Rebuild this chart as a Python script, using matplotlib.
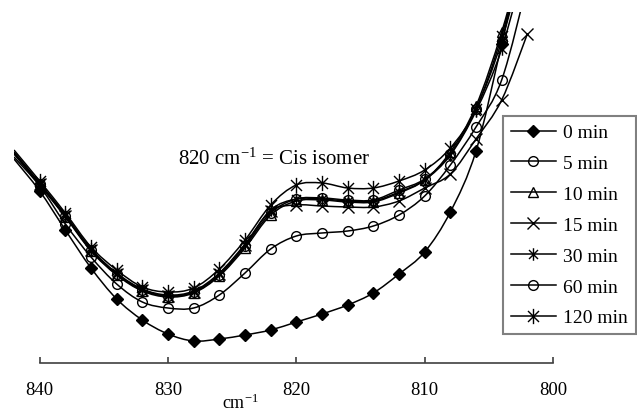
import matplotlib
matplotlib.use("Agg")
import matplotlib.pyplot as plt
from matplotlib.path import Path
from matplotlib.patches import PathPatch
from matplotlib.lines import Line2D

plt.rcParams['font.family'] = ['Liberation Serif', 'DejaVu Serif']
plt.rcParams['mathtext.fontset'] = 'custom'
plt.rcParams['mathtext.rm'] = 'Liberation Serif'
plt.rcParams['mathtext.it'] = 'Liberation Serif:italic'

# numero de onda (cm-1), cada 2 cm-1
onda = [842, 840, 838, 836, 834, 832, 830, 828, 826, 824, 822,
        820, 818, 816, 814, 812, 810, 808, 806, 804, 802]

# absorbancia (unidades arbitrarias)
abs_0 = [0.204, 0.172, 0.133, 0.095, 0.064, 0.043, 0.029, 0.022, 0.024, 0.028, 0.033,
         0.041, 0.049, 0.058, 0.070, 0.089, 0.111, 0.151, 0.212, 0.319, 0.434]
abs_5 = [0.206, 0.177, 0.139, 0.106, 0.079, 0.061, 0.055, 0.055, 0.068, 0.090, 0.114,
         0.127, 0.130, 0.132, 0.137, 0.148, 0.167, 0.198, 0.236, 0.283, 0.379]
abs_10 = [0.209, 0.178, 0.146, 0.112, 0.088, 0.072, 0.066, 0.070, 0.087, 0.115, 0.148,
          0.162, 0.163, 0.161, 0.161, 0.170, 0.183, 0.211, 0.257, 0.331, 0.424]
abs_15 = [0.210, 0.179, 0.147, 0.113, 0.089, 0.073, 0.067, 0.071, 0.089, 0.118, 0.152,
          0.158, 0.157, 0.156, 0.156, 0.162, 0.175, 0.189, 0.224, 0.263, 0.329]
abs_30 = [0.211, 0.180, 0.148, 0.114, 0.090, 0.074, 0.068, 0.072, 0.090, 0.119, 0.153,
          0.164, 0.164, 0.162, 0.162, 0.171, 0.183, 0.208, 0.252, 0.314, 0.409]
abs_60 = [0.210, 0.179, 0.147, 0.113, 0.089, 0.073, 0.067, 0.071, 0.088, 0.117, 0.150,
          0.164, 0.165, 0.163, 0.163, 0.173, 0.184, 0.209, 0.254, 0.322, 0.419]
abs_120 = [0.213, 0.182, 0.150, 0.116, 0.093, 0.076, 0.071, 0.075, 0.094, 0.123, 0.158,
           0.178, 0.180, 0.175, 0.175, 0.182, 0.193, 0.215, 0.254, 0.327, 0.424]

etiquetas = ['0 min', '5 min', '10 min', '15 min', '30 min', '60 min', '120 min']
series = [abs_0, abs_5, abs_10, abs_15, abs_30, abs_60, abs_120]
ticks_x = [840, 830, 820, 810, 800]

# marcador estrella (x + linea vertical) como el de Excel
estrella = Path([(0, -1), (0, 1), (-0.72, -0.72), (0.72, 0.72), (-0.72, 0.72), (0.72, -0.72)],
                [Path.MOVETO, Path.LINETO, Path.MOVETO, Path.LINETO, Path.MOVETO, Path.LINETO])

estilos = [
    dict(marker='D', markersize=6, markerfacecolor='black'),
    dict(marker='o', markersize=7, markerfacecolor='none'),
    dict(marker='^', markersize=7, markerfacecolor='none'),
    dict(marker='x', markersize=8, markerfacecolor='none'),
    dict(marker=estrella, markersize=9, markerfacecolor='none'),
    dict(marker='o', markersize=7, markerfacecolor='none'),
    dict(marker=estrella, markersize=11, markerfacecolor='none'),
]


def curva_suave(x, y):
    # linea suavizada tipo Excel (Catmull-Rom en forma de Bezier)
    pts = list(zip(x, y))
    verts = [pts[0]]
    codes = [Path.MOVETO]
    n = len(pts)
    for i in range(n - 1):
        p0 = pts[i - 1] if i > 0 else pts[i]
        p1 = pts[i]
        p2 = pts[i + 1]
        p3 = pts[i + 2] if i + 2 < n else pts[i + 1]
        c1 = (p1[0] + (p2[0] - p0[0]) / 6, p1[1] + (p2[1] - p0[1]) / 6)
        c2 = (p2[0] - (p3[0] - p1[0]) / 6, p2[1] - (p3[1] - p1[1]) / 6)
        verts += [c1, c2, p2]
        codes += [Path.CURVE4, Path.CURVE4, Path.CURVE4]
    return Path(verts, codes)


fig = plt.figure(figsize=(6.37, 4.14), dpi=100)
ax = fig.add_axes([14 / 637, 50 / 414, 539 / 637, 351 / 414])

for y, est, lab in zip(series, estilos, etiquetas):
    ax.add_patch(PathPatch(curva_suave(onda, y), fill=False, edgecolor='black', lw=1.1))
    ax.plot(onda[1:], y[1:], linestyle='none', color='black', markeredgecolor='black',
            markeredgewidth=1.0, **est)

ax.set_xlim(842, 800)
ax.set_ylim(0, 0.351)

for lado in ['left', 'top', 'right']:
    ax.spines[lado].set_visible(False)
ax.spines['bottom'].set_bounds(800, 840)
ax.spines['bottom'].set_color('#404040')
ax.spines['bottom'].set_linewidth(1.2)
ax.set_yticks([])
ax.set_xticks(ticks_x)
ax.set_xticklabels([str(t) for t in ticks_x])
ax.tick_params(axis='x', direction='in', length=4, width=1.2, color='#404040',
               pad=13, labelsize=13.5)

fig.text(240 / 637, 5 / 414, 'cm$^{-1}$', ha='center', va='baseline', fontsize=13)
fig.text(178 / 637, 1 - 165 / 414, '820 cm$^{-1}$ = Cis isomer', ha='left',
         va='baseline', fontsize=15)

handles = [Line2D([0], [0], color='black', lw=1.1, markeredgecolor='black',
                  markeredgewidth=1.0, **est) for est in estilos]
leg = fig.legend(handles, etiquetas, loc='upper right',
                 bbox_to_anchor=(636 / 637, 1 - 117 / 414), fontsize=14,
                 frameon=True, fancybox=False, handlelength=2.3, handletextpad=0.4,
                 labelspacing=0.68, borderpad=0.4, borderaxespad=0)
leg.get_frame().set_edgecolor('#606060')
leg.get_frame().set_linewidth(1.5)

fig.savefig('out.png', dpi=100)
